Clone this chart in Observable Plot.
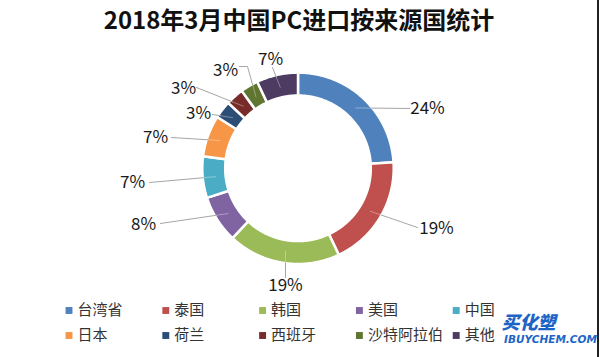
<!DOCTYPE html>
<html>
<head>
<meta charset="utf-8">
<script src="https://cdn.jsdelivr.net/npm/d3@7"></script>
<script src="https://cdn.jsdelivr.net/npm/@observablehq/plot@0.6"></script>
<style>
  html, body { margin: 0; padding: 0; background: #fff; }
  #chart svg { display: block; }
</style>
</head>
<body>
<div id="chart"></div>
<script>
// ---- data ----
const title = "2018年3月中国PC进口按来源国统计";
const categories = ["台湾省", "泰国", "韩国", "美国", "中国", "日本", "荷兰", "西班牙", "沙特阿拉伯", "其他"];
const values = [24, 19, 19, 8, 7, 7, 3, 3, 3, 7];
const labels = ["24%", "19%", "19%", "8%", "7%", "7%", "3%", "3%", "3%", "7%"];
const colors = ["#4F81BD", "#C0504D", "#9BBB59", "#8064A2", "#4BACC6", "#F79646", "#2C4D75", "#772C2A", "#5F7530", "#4D3B62"];

// ---- layout ----
const W = 600, H = 357;
const cx = 298, cy = 168.3;
const rOuter = 95.7, rInner = 72.8, rMid = 83.5, rEdge = 94.5;
const font = "'Noto Sans CJK SC', 'Noto Sans', sans-serif";
// label centres and leader-line starts (annotation layout, Excel "best fit")
const labelAt = [[427,108],[436,228],[285,285],[143,224],[132,182],[155,137],[198,113],[183,88],[225,70],[270,59]];
const leaderFrom = [[409,108],[417,227],[285,277],[160,223],[149,182],[171,137],[212,114],[196,87],[239,66],[272,67]];
const leaderElbow = [null,null,null,null,null,null,null,null,[247,66],null];

const total = d3.sum(values);
const pt = (a, r) => [cx + r * Math.sin(a), cy - r * Math.cos(a)];

// slice polygons built from the data
const sliceRows = [];
const leaderRows = [];
const innerLeaderRows = [];
let acc = 0;
categories.forEach((c, i) => {
  const a0 = acc / total * 2 * Math.PI;
  acc += values[i];
  const a1 = acc / total * 2 * Math.PI;
  const n = Math.max(4, Math.ceil((a1 - a0) / (Math.PI / 360)));
  for (let k = 0; k <= n; k++) {
    const a = a0 + (a1 - a0) * k / n;
    const [xo, yo] = pt(a, rOuter);
    const [xi, yi] = pt(a, rInner);
    sliceRows.push({cat: c, xo, yo, xi, yi});
  }
  const am = (a0 + a1) / 2;
  const [xm, ym] = pt(am, rMid);
  const [xe, ye] = pt(am, rEdge);
  // outside part of the leader: from label to where it meets the ring
  const sx = leaderElbow[i] ? leaderElbow[i][0] : leaderFrom[i][0];
  const sy = leaderElbow[i] ? leaderElbow[i][1] : leaderFrom[i][1];
  // find the point on segment (sx,sy)->(xm,ym) at radius rEdge
  let lo = 0, hi = 1;
  for (let k = 0; k < 30; k++) {
    const t = (lo + hi) / 2;
    const px = sx + (xm - sx) * t, py = sy + (ym - sy) * t;
    if (Math.hypot(px - cx, py - cy) > rEdge) lo = t; else hi = t;
  }
  const bx = sx + (xm - sx) * lo, by = sy + (ym - sy) * lo;
  leaderRows.push({cat: c, x: leaderFrom[i][0], y: leaderFrom[i][1]});
  if (leaderElbow[i]) leaderRows.push({cat: c, x: leaderElbow[i][0], y: leaderElbow[i][1]});
  leaderRows.push({cat: c, x: bx, y: by});
  innerLeaderRows.push({cat: c, x: bx, y: by});
  innerLeaderRows.push({cat: c, x: xm, y: ym});
});

const labelRows = categories.map((c, i) => ({cat: c, text: labels[i], x: labelAt[i][0], y: labelAt[i][1]}));
const legendRows = categories.map((c, i) => ({cat: c, x: 68.5 + (i % 5) * 96.8, y: 310 + Math.floor(i / 5) * 25}));

const chart = Plot.plot({
  width: W,
  height: H,
  margin: 0,
  x: {domain: [0, W], range: [0, W], axis: null},
  y: {domain: [0, H], range: [0, H], axis: null},
  color: {domain: categories, range: colors},
  style: {fontFamily: font, background: "#fff"},
  marks: [
    Plot.area(sliceRows, {x1: "xo", y1: "yo", x2: "xi", y2: "yi", fill: "cat", z: "cat", stroke: "white", strokeWidth: 2.5, curve: "linear"}),
    Plot.line(leaderRows, {x: "x", y: "y", z: "cat", stroke: "#a6a6a6", strokeWidth: 1}),
    Plot.line(innerLeaderRows, {x: "x", y: "y", z: "cat", stroke: "#ffffff", strokeOpacity: 0.35, strokeWidth: 1}),
    Plot.text(labelRows, {x: "x", y: "y", text: "text", fontSize: 17, fill: "#1a1a1a", fontFamily: font}),
    Plot.dot(legendRows, {x: "x", y: "y", fill: "cat", symbol: "square", r: 3.9}),
    Plot.text(legendRows, {x: d => d.x + 8.5, y: "y", text: "cat", textAnchor: "start", fontSize: 15, fill: "#333", fontFamily: font}),
    Plot.text([title], {x: 298.5, y: 21, text: d => d, fontSize: 24, fontWeight: "bold", fill: "#111", fontFamily: font}),
    Plot.text(["买化塑"], {x: 528, y: 323, text: d => d, fontSize: 18, fontWeight: 900, fontStyle: "italic", fill: "#1c64c6", fontFamily: font}),
    Plot.text(["IBUYCHEM.COM"], {x: 550, y: 339.5, text: d => d, fontSize: 10.5, fontWeight: 900, fontStyle: "italic", fill: "#1c64c6", fontFamily: "'DejaVu Sans', sans-serif"}),
    Plot.ruleX([597.5], {stroke: "#222", strokeWidth: 2})
  ]
});
document.getElementById("chart").appendChild(chart);
</script>
</body>
</html>
